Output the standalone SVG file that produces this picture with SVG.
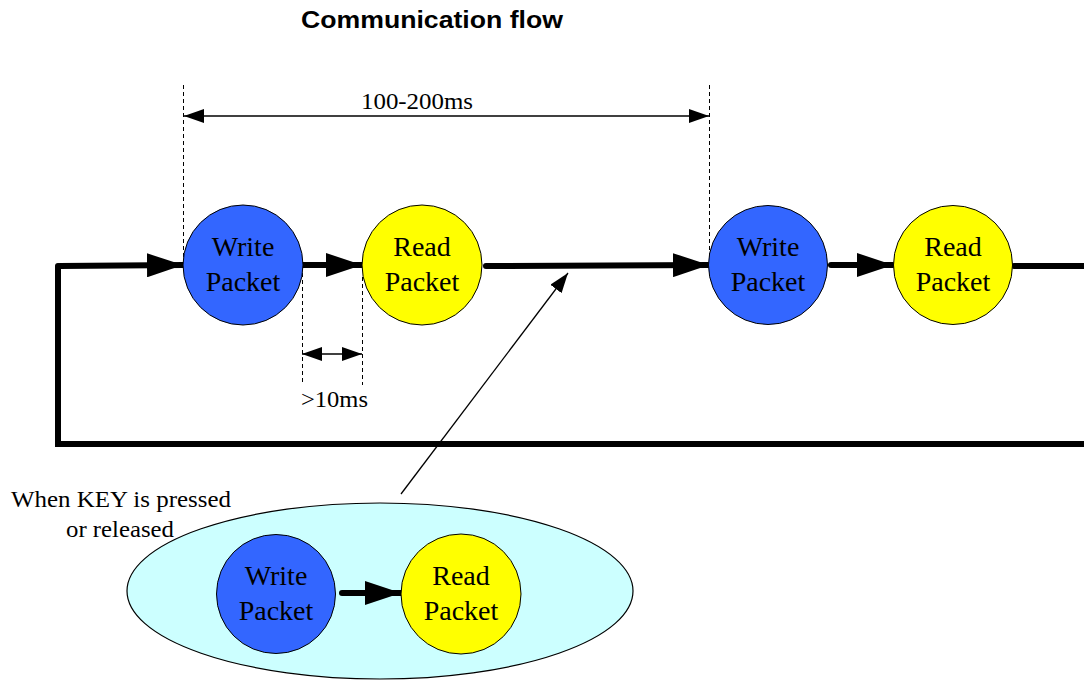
<svg xmlns="http://www.w3.org/2000/svg" width="1084" height="681" viewBox="0 0 1084 681">
  <defs>
    <marker id="bigHead" markerUnits="userSpaceOnUse" markerWidth="36" markerHeight="24" refX="36" refY="12" orient="auto">
      <path d="M0,0 L36,12 L0,24 Z" fill="#000"/>
    </marker>
    <marker id="thinHead" markerUnits="userSpaceOnUse" markerWidth="20" markerHeight="14" refX="20" refY="7" orient="auto">
      <path d="M0,0 L20,7 L0,14 Z" fill="#000"/>
    </marker>
    <marker id="thinTail" markerUnits="userSpaceOnUse" markerWidth="20" markerHeight="14" refX="0" refY="7" orient="auto">
      <path d="M20,0 L0,7 L20,14 Z" fill="#000"/>
    </marker>
  </defs>
  <style>
    .write { fill: #3366FF; stroke: #000; stroke-width: 1; }
    .read { fill: #FFFF00; stroke: #000; stroke-width: 1; }
    .label { font-family: "Liberation Serif", "Times New Roman", serif; font-size: 28px; fill: #000; text-anchor: middle; }
    .note { font-family: "Liberation Serif", "Times New Roman", serif; font-size: 23px; fill: #000; }
    .title { font-family: "Liberation Sans", Arial, sans-serif; font-size: 24px; font-weight: bold; fill: #000; }
    .flow { fill: none; stroke: #000; stroke-width: 6; stroke-linecap: round; }
    .dim { fill: none; stroke: #000; stroke-width: 1.3; }
    .guide { fill: none; stroke: #000; stroke-width: 1; stroke-dasharray: 4 3; }
  </style>

  <rect width="1084" height="681" fill="#fff"/>

  <text class="title" x="301" y="28" textLength="262" lengthAdjust="spacingAndGlyphs">Communication flow</text>

  <!-- event group: key press/release -->
  <g id="key-event">
    <ellipse cx="380" cy="591" rx="253" ry="88" fill="#CCFFFF" stroke="#000" stroke-width="1.2"/>
    <text class="note" x="11" y="507" textLength="220" lengthAdjust="spacingAndGlyphs">When KEY is pressed</text>
    <text class="note" x="66" y="537" textLength="108" lengthAdjust="spacingAndGlyphs">or released</text>
  </g>

  <!-- timing guides -->
  <g id="timing">
    <line class="guide" x1="183.5" y1="85" x2="183.5" y2="258"/>
    <line class="guide" x1="709.5" y1="85" x2="709.5" y2="258"/>
    <line class="dim" x1="184" y1="116" x2="709" y2="116" marker-start="url(#thinTail)" marker-end="url(#thinHead)"/>
    <text class="note" x="361" y="109" textLength="112" lengthAdjust="spacingAndGlyphs">100-200ms</text>

    <line class="guide" x1="302.5" y1="266" x2="302.5" y2="385"/>
    <line class="guide" x1="362.5" y1="277" x2="362.5" y2="385"/>
    <line class="dim" x1="302" y1="354" x2="362" y2="354" marker-start="url(#thinTail)" marker-end="url(#thinHead)"/>
    <text class="note" x="301" y="407" textLength="67" lengthAdjust="spacingAndGlyphs">&gt;10ms</text>
  </g>

  <!-- connectors -->
  <g id="connectors">
    <polyline class="flow" points="1084,444 58,444 58,266" stroke-linecap="butt"/>
    <line class="flow" x1="60" y1="266" x2="183" y2="265" marker-end="url(#bigHead)"/>
    <line class="flow" x1="303" y1="265" x2="362" y2="265" marker-end="url(#bigHead)"/>
    <line class="flow" x1="486" y1="266" x2="709" y2="265" marker-end="url(#bigHead)"/>
    <line class="flow" x1="831" y1="265" x2="893" y2="265" marker-end="url(#bigHead)"/>
    <line class="flow" x1="1014" y1="266" x2="1084" y2="266"/>
    <line class="flow" x1="342" y1="593" x2="401" y2="593" marker-end="url(#bigHead)"/>
    <line class="dim" x1="401" y1="494" x2="568" y2="273" marker-end="url(#thinHead)"/>
  </g>

  <g id="write-1">
    <circle class="write" cx="243" cy="265" r="60"/>
    <text class="label" x="243" y="256">Write</text>
    <text class="label" x="243" y="291">Packet</text>
  </g>
  <g id="read-1">
    <circle class="read" cx="422" cy="265" r="60"/>
    <text class="label" x="422" y="256">Read</text>
    <text class="label" x="422" y="291">Packet</text>
  </g>
  <g id="write-2">
    <circle class="write" cx="768" cy="265" r="59.5"/>
    <text class="label" x="768" y="256">Write</text>
    <text class="label" x="768" y="291">Packet</text>
  </g>
  <g id="read-2">
    <circle class="read" cx="953" cy="265" r="59.5"/>
    <text class="label" x="953" y="256">Read</text>
    <text class="label" x="953" y="291">Packet</text>
  </g>
  <g id="write-3">
    <circle class="write" cx="276" cy="594" r="59.5"/>
    <text class="label" x="276" y="585">Write</text>
    <text class="label" x="276" y="620">Packet</text>
  </g>
  <g id="read-3">
    <circle class="read" cx="461" cy="594" r="60"/>
    <text class="label" x="461" y="585">Read</text>
    <text class="label" x="461" y="620">Packet</text>
  </g>
</svg>
